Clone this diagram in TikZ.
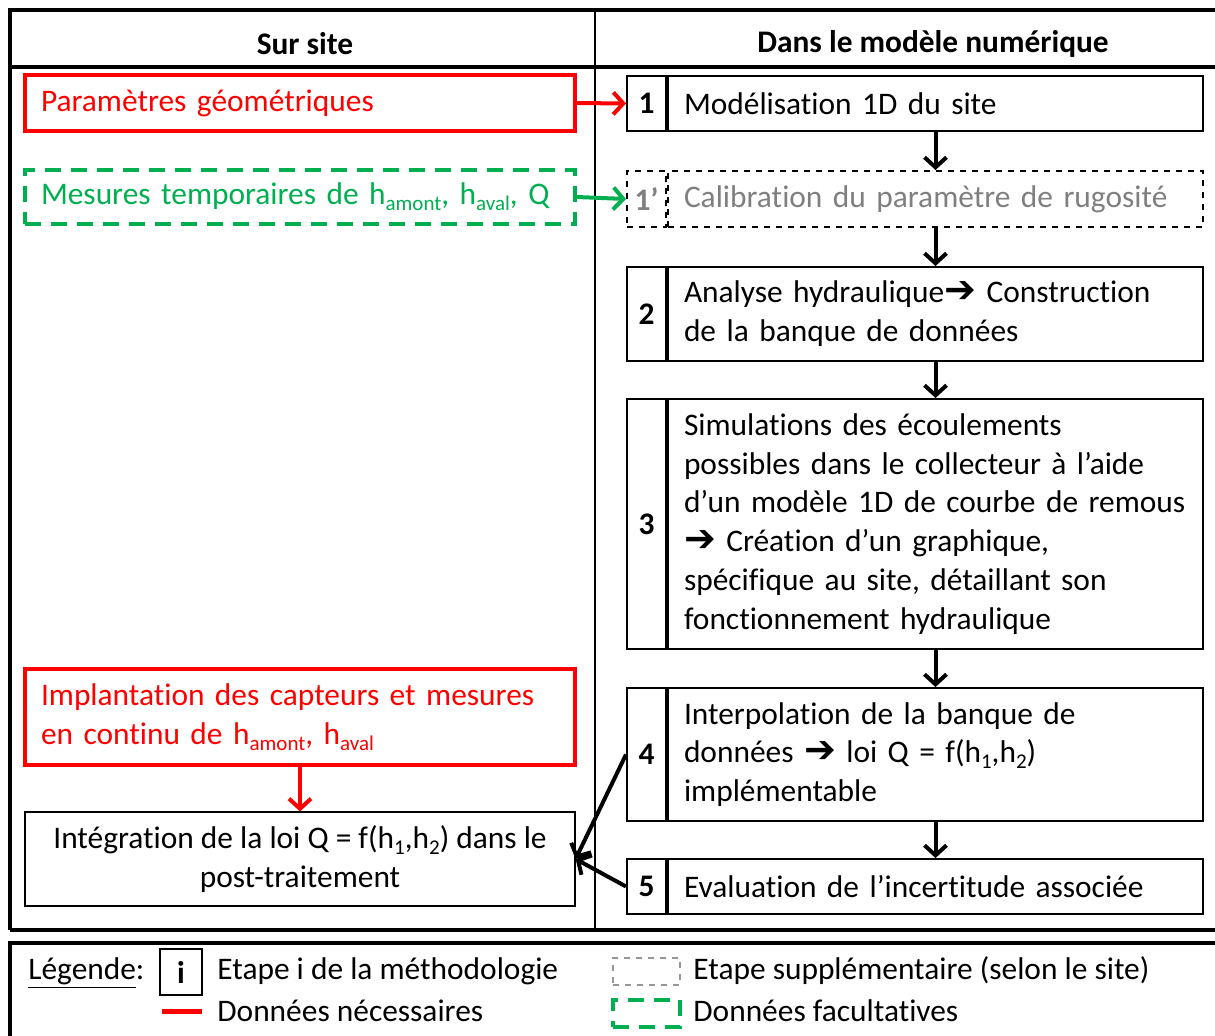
\documentclass[tikz,border=0pt]{standalone}
\usepackage{fontspec}
\setmainfont{Carlito}[Ligatures=NoCommon]
\newfontfamily\symfont{DejaVu Sans}
\usetikzlibrary{arrows.meta,positioning}
\definecolor{rouge}{RGB}{255,0,0}
\definecolor{vert}{RGB}{0,176,80}
\definecolor{gristxt}{RGB}{127,127,127}
\definecolor{grisbord}{RGB}{150,150,150}
\newcommand{\sbs}[1]{\raisebox{-3pt}{\fontsize{10.5}{12}\selectfont #1}}
\newcommand{\fleche}{{\symfont\bfseries\fontsize{19}{16}\selectfont ➔}}
\hyphenpenalty=10000
\begin{document}
\begin{tikzpicture}[x=0.5pt,y=-0.5pt,font=\fontsize{15.7}{19.4}\selectfont,
  numcell/.style={draw,line width=1pt,minimum width=19.5pt,inner sep=0pt,font=\fontsize{15.7}{19.4}\selectfont\bfseries},
  etape/.style={draw,line width=1pt,minimum width=267.5pt,text width=251.5pt,inner xsep=8pt,inner ysep=0pt,align=left},
  donnee/.style={draw=rouge,text=rouge,line width=2.2pt,minimum width=275pt,text width=259pt,inner xsep=8pt,inner ysep=0pt,align=left},
  facult/.style={draw=vert,text=vert,line width=2pt,dash pattern=on 8pt off 5pt,minimum width=275pt,text width=259pt,inner xsep=8pt,inner ysep=0pt,align=left},
  fl/.style={line width=2pt,-{Straight Barb[length=5pt,width=11pt]}}]
\useasboundingbox (0,0) rectangle (1215,1035);
% tableau
\draw[line width=2pt] (10,930) -- (10,10) -- (1230,10);
\draw[line width=2pt] (10,67) -- (1230,67);
\draw[line width=2pt] (10,930) -- (1230,930);
\draw[line width=1pt] (595,10) -- (595,930);
\node (hsite) at (305,44) {\bfseries Sur site};
\node (hmod) at (933,44) {\bfseries Dans le modèle numérique};
% sur site
\node (par) at (300,103) [donnee,minimum height=28pt] {Paramètres géométriques};
\node (mes) at (300,197) [facult,minimum height=27pt] {Mesures temporaires de h\sbs{amont}, h\sbs{aval}, Q};
\node (imp) at (300,717) [donnee,minimum height=48pt] {Implantation des capteurs et mesures\\en continu de h\sbs{amont}, h\sbs{aval}};
\node (int) at (300,859) [draw,line width=0.6pt,minimum width=275pt,minimum height=47pt,align=center] {Intégration de la loi Q = f(h\sbs{1},h\sbs{2}) dans le\\post-traitement};
% modele numerique
\node (n1) at (626,75) [numcell,anchor=north west,minimum height=27.5pt] {1};
\node (e1) [etape,right=0pt of n1,minimum height=27.5pt] {Modélisation 1D du site};
\node (n1p) at (626,170) [numcell,anchor=north west,minimum height=28pt,dashed,text=gristxt] {1’};
\node (e1p) [etape,right=0pt of n1p,minimum height=28pt,dashed,text=gristxt] {Calibration du paramètre de rugosité};
\node (n2) at (626,266) [numcell,anchor=north west,minimum height=47pt] {2};
\node (e2) [etape,right=0pt of n2,minimum height=47pt] {Analyse hydraulique\fleche{} Construction\\de la banque de données};
\node (n3) at (626,398) [numcell,anchor=north west,minimum height=125pt] {3};
\node (e3) [etape,right=0pt of n3,minimum height=125pt] {Simulations des écoulements\\possibles dans le collecteur à l’aide\\d’un modèle 1D de courbe de remous\\\fleche{} Création d’un graphique,\\spécifique au site, détaillant son\\fonctionnement hydraulique};
\node (n4) at (626,687) [numcell,anchor=north west,minimum height=66.5pt] {4};
\node (e4) [etape,right=0pt of n4,minimum height=66.5pt] {Interpolation de la banque de\\données \fleche{} loi Q = f(h\sbs{1},h\sbs{2})\\implémentable};
\node (n5) at (626,858) [numcell,anchor=north west,minimum height=27.5pt] {5};
\node (e5) [etape,right=0pt of n5,minimum height=27.5pt] {Evaluation de l’incertitude associée};
% fleches
\draw[fl,rouge] (par.east) -- (n1.west);
\draw[fl,vert] (mes.east) -- (n1p.west);
\draw[fl,rouge] (imp.south) -- (int.north);
\draw[fl] (e1.south) -- (e1p.north);
\draw[fl] (e1p.south) -- (e2.north);
\draw[fl] (e2.south) -- (e3.north);
\draw[fl] (e3.south) -- (e4.north);
\draw[fl] (e4.south) -- (e5.north);
\draw[fl] (n4.west) -- (int.east);
\draw[fl] (n5.west) -- (int.east);
% legende
\draw[line width=2pt] (10,1045) -- (10,943) -- (1230,943);
\node (li) at (181,972) [draw,line width=1pt,minimum width=21pt,minimum height=23pt,inner sep=0pt,font=\fontsize{15.7}{19.4}\selectfont\bfseries] {i};
\node (ti) at (217,971) [anchor=west,inner sep=0pt] {Etape i de la méthodologie};
\node (leg) at (ti.base -| 28,0) [anchor=base west,inner sep=0pt] {\underline{Légende}:};
\coordinate (r1) at (162,1011);
\coordinate (r2) at (202,1011);
\draw[rouge,line width=2.5pt] (r1) -- (r2);
\node (tr) at (217,1011) [anchor=west,inner sep=0pt] {Données nécessaires};
\node (lg) at (646.5,971.5) [draw=grisbord,line width=0.7pt,dashed,minimum width=33.5pt,minimum height=13.5pt,inner sep=0pt] {};
\node (tg) at (693,971) [anchor=west,inner sep=0pt] {Etape supplémentaire (selon le site)};
\node (lv) at (646.5,1013.5) [draw=vert,line width=2pt,dash pattern=on 8pt off 5pt,minimum width=33.5pt,minimum height=13.5pt,inner sep=0pt] {};
\node (tv) at (693,1011) [anchor=west,inner sep=0pt] {Données facultatives};
\end{tikzpicture}
\end{document}
